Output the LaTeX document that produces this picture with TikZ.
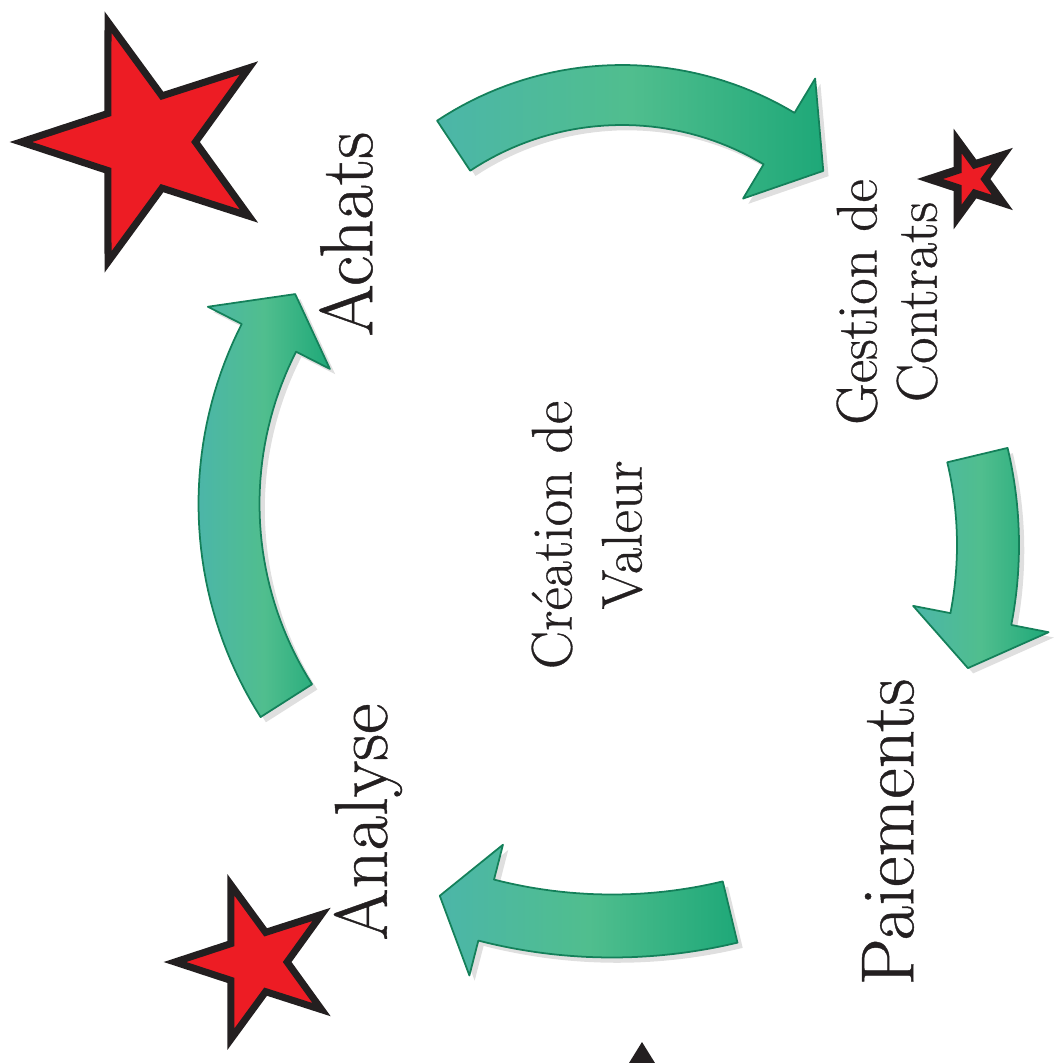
\documentclass[tikz,border=0pt]{standalone}
\usepackage{fontspec}
\setmainfont{Latin Modern Roman}[FakeBold=0.6]
\usetikzlibrary{shapes.geometric,shadows}
\definecolor{arrgreen}{RGB}{30,168,120}
\definecolor{arrlight}{RGB}{80,190,142}
\definecolor{arrblue}{RGB}{70,172,200}
\definecolor{arrdark}{RGB}{20,128,90}
\definecolor{starred}{RGB}{237,28,36}
\definecolor{inkblack}{RGB}{35,31,32}
\tikzset{
  bendarr/.style={left color=arrblue!45!arrlight,right color=arrgreen,middle color=arrlight,draw=arrdark,line width=0.5pt,line join=round,
    drop shadow={opacity=.25,shadow xshift=1.5pt,shadow yshift=-1.5pt}},
  redstar/.style={star,star points=5,star point ratio=2.6,shape border rotate=90,fill=starred,draw=inkblack,line width=2pt,inner sep=0pt},
  lab/.style={rotate=90,inner sep=0pt,text=inkblack,align=center},
  bigtxt/.style={lab,font=\fontsize{21.3}{24}\selectfont},
  smalltxt/.style={lab,font=\fontsize{16.3}{17.1}\selectfont}
}
% centre x, centre y, radius, width, tail angle, base angle, tip angle, barb
\newcommand{\bendarrow}[8]{%
  \path[bendarr]
    plot[domain=#5:#6,samples=40] ({#1+(#3+#4/2)*cos(\x)},{#2+(#3+#4/2)*sin(\x)})
    -- ({#1+(#3+#4/2+#8)*cos(#6)},{#2+(#3+#4/2+#8)*sin(#6)})
    -- ({#1+#3*cos(#7)},{#2+#3*sin(#7)})
    -- ({#1+(#3-#4/2-#8)*cos(#6)},{#2+(#3-#4/2-#8)*sin(#6)})
    -- plot[domain=#6:#5,samples=40] ({#1+(#3-#4/2)*cos(\x)},{#2+(#3-#4/2)*sin(\x)})
    -- cycle;
}

\begin{document}
\begin{tikzpicture}[x=0.01cm,y=-0.01cm]
\useasboundingbox (0,0) rectangle (1053,1063);
% arrows round the cycle
\bendarrow{622}{400}{305}{60}{-123.5}{-59}{-48.7}{40}
\bendarrow{600}{545}{388}{62}{-13.4}{11}{18.5}{38}
\bendarrow{612}{420}{506}{63}{76.5}{104.4}{109.9}{36}
\bendarrow{595}{504}{366}{61}{147.5}{207}{215}{38}
% stars
\node[redstar,minimum size=2.52cm] (starAchats) at (147,142) {};
\node[redstar,minimum size=0.8cm,line width=2.3pt] (starGestion) at (970,179) {};
\node[redstar,minimum size=1.62cm] (starAnalyse) at (256,962) {};
\fill[inkblack] (642,1042) -- (629,1063) -- (655,1063) -- cycle;
% labels
\node[bigtxt] (achats) at (346,234) {Achats};
\node[smalltxt] (gestion) at (887,302) {Gestion de\\Contrats};
\node[lab,font=\fontsize{16.3}{19.9}\selectfont] (creation) at (587,535) {Création de\\Valeur};
\node[bigtxt] (paiements) at (888,832) {Paiements};
\node[bigtxt] (analyse) at (368,822) {Analyse};
\end{tikzpicture}
\end{document}
